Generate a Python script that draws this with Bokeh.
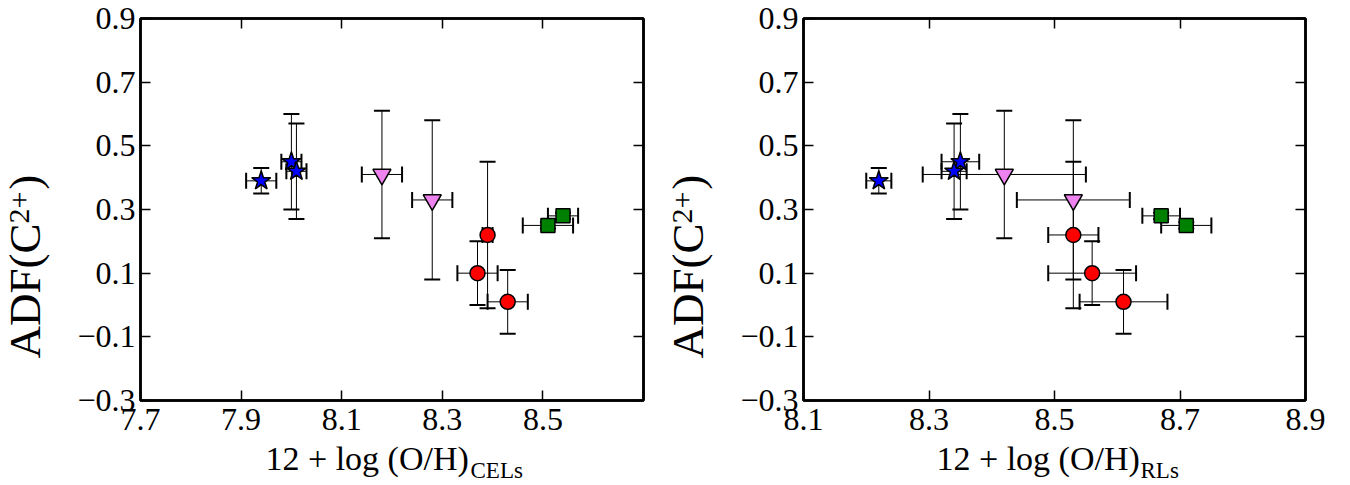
from bokeh.plotting import figure
from bokeh.models import (ColumnDataSource, Whisker, TeeHead, FixedTicker,
                          CustomJSTickFormatter, LinearAxis, Title, Range1d)
from bokeh.layouts import row
from bokeh.embed import file_html
from bokeh.resources import INLINE

# ---------------- data ----------------
y_ticks = [-0.3, -0.1, 0.1, 0.3, 0.5, 0.7, 0.9]
x_ticks_cel = [7.7, 7.9, 8.1, 8.3, 8.5]
x_ticks_rl = [8.1, 8.3, 8.5, 8.7, 8.9]

star_y = [0.39, 0.45, 0.42]
star_yerr = [0.04, 0.15, 0.15]
star_x_cel = [7.94, 8.00, 8.01]
star_xerr_cel = [0.03, 0.02, 0.02]
star_x_rl = [8.22, 8.35, 8.34]
star_xerr_rl = [0.02, 0.03, 0.02]

tri_y = [0.41, 0.33]
tri_yerr = [0.20, 0.25]
tri_x_cel = [8.18, 8.28]
tri_xerr_cel = [0.04, 0.04]
tri_x_rl = [8.42, 8.53]
tri_xerr_rl = [0.13, 0.09]

circ_y = [0.22, 0.10, 0.01]
circ_yerr = [0.23, 0.10, 0.10]
circ_x_cel = [8.39, 8.37, 8.43]
circ_xerr_cel = [0.01, 0.04, 0.04]
circ_x_rl = [8.53, 8.56, 8.61]
circ_xerr_rl = [0.04, 0.07, 0.07]

sq_y = [0.25, 0.28]
sq_yerr = [0.01, 0.01]
sq_x_cel = [8.51, 8.54]
sq_xerr_cel = [0.05, 0.03]
sq_x_rl = [8.71, 8.67]
sq_xerr_rl = [0.04, 0.03]

y_label_main = "ADF(C\u00a0\u00a0\u00a0)"
y_label_sup = "2+"
x_label_main = "12 + log (O/H)"
x_sub_cel = "CELs"
x_sub_rl = "RLs"

FONT = "Liberation Serif"
TICK_FS = "32px"

fmt = CustomJSTickFormatter(code="return (tick < 0 ? '\\u2212' : '') + Math.abs(tick).toFixed(1);")
empty_fmt = CustomJSTickFormatter(code="return '';")


def style_axis(ax, ticks, labels=True):
    ax.ticker = FixedTicker(ticks=ticks)
    ax.minor_tick_line_color = None
    ax.major_tick_in = 10
    ax.major_tick_out = 0
    ax.major_tick_line_width = 1.5
    ax.major_tick_line_color = "black"
    ax.axis_line_width = 2.5
    ax.axis_line_color = "black"
    if labels:
        ax.formatter = fmt
        ax.major_label_text_font = FONT
        ax.major_label_text_font_size = TICK_FS
        ax.major_label_text_color = "black"
    else:
        ax.formatter = empty_fmt
        ax.major_label_text_font_size = "0px"
        ax.major_label_standoff = 0


def add_series(p, xs, xe, ys, ye, marker, color, size):
    src = ColumnDataSource(dict(
        x=xs, y=ys,
        xl=[a - b for a, b in zip(xs, xe)], xu=[a + b for a, b in zip(xs, xe)],
        yl=[a - b for a, b in zip(ys, ye)], yu=[a + b for a, b in zip(ys, ye)]))
    for dim, base, lo, up in (("height", "x", "yl", "yu"), ("width", "y", "xl", "xu")):
        w = Whisker(source=src, base=base, lower=lo, upper=up, dimension=dim,
                    line_color="black", line_width=1, level="underlay",
                    upper_head=TeeHead(size=16, line_width=2, line_color="black"),
                    lower_head=TeeHead(size=16, line_width=2, line_color="black"))
        p.add_layout(w)
    p.scatter("x", "y", source=src, marker=marker, size=size, fill_color=color,
              line_color="black", line_width=1.5)


def spacer(standoff):
    return Title(text="\u00a0", standoff=standoff, text_font=FONT,
                 text_font_size="1px", text_font_style="normal")


def text_title(text, size, offset, standoff):
    return Title(text=text, align="left", offset=offset, standoff=standoff,
                 text_font=FONT, text_font_size=size, text_font_style="normal",
                 text_color="black")


def make_panel(xr, xticks, series, sub, border_left, border_right, frame_w,
               main_off, sub_off):
    p = figure(frame_width=frame_w, frame_height=382,
               x_range=Range1d(*xr), y_range=Range1d(-0.3, 0.9),
               min_border_left=border_left, min_border_right=border_right,
               min_border_top=18, min_border_bottom=85,
               output_backend="svg", toolbar_location=None)
    p.grid.visible = False
    p.outline_line_color = "black"
    p.outline_line_width = 2.5
    p.background_fill_color = "white"
    p.border_fill_color = "white"
    style_axis(p.xaxis[0], xticks)
    p.xaxis[0].major_label_standoff = 8
    style_axis(p.yaxis[0], y_ticks)
    p.yaxis[0].major_label_standoff = 5
    top = LinearAxis()
    style_axis(top, xticks, labels=False)
    p.add_layout(top, "above")
    rgt = LinearAxis()
    style_axis(rgt, y_ticks, labels=False)
    p.add_layout(rgt, "right")

    for s in series:
        add_series(p, *s)

    # x-axis label: spacer, main text, subscript (stacked title panels)
    p.add_layout(spacer(19), "below")
    p.add_layout(text_title(x_label_main, "34px", main_off, -34), "below")
    p.add_layout(text_title(sub, "23px", sub_off, -7), "below")
    # y-axis label: spacer, main text, superscript
    p.add_layout(spacer(44), "left")
    p.add_layout(text_title(y_label_main, "45px", 42, -45), "left")
    p.add_layout(text_title(y_label_sup, "30px", 177, -16), "left")
    return p


series_cel = [
    (star_x_cel, star_xerr_cel, star_y, star_yerr, "star", "#0000ff", 20),
    (tri_x_cel, tri_xerr_cel, tri_y, tri_yerr, "inverted_triangle", "#ee82ee", 18),
    (circ_x_cel, circ_xerr_cel, circ_y, circ_yerr, "circle", "#ff0000", 15),
    (sq_x_cel, sq_xerr_cel, sq_y, sq_yerr, "square", "#008000", 14),
]
series_rl = [
    (star_x_rl, star_xerr_rl, star_y, star_yerr, "star", "#0000ff", 20),
    (tri_x_rl, tri_xerr_rl, tri_y, tri_yerr, "inverted_triangle", "#ee82ee", 18),
    (circ_x_rl, circ_xerr_rl, circ_y, circ_yerr, "circle", "#ff0000", 15),
    (sq_x_rl, sq_xerr_rl, sq_y, sq_yerr, "square", "#008000", 14),
]

p1 = make_panel((7.7, 8.7), x_ticks_cel, series_cel, x_sub_cel, 140, 7, 503, 125, 330)
p2 = make_panel((8.1, 8.9), x_ticks_rl, series_rl, x_sub_rl, 153, 37, 502, 133, 337)

layout = row(p1, p2)
open("out.html", "w").write(file_html(layout, INLINE))
